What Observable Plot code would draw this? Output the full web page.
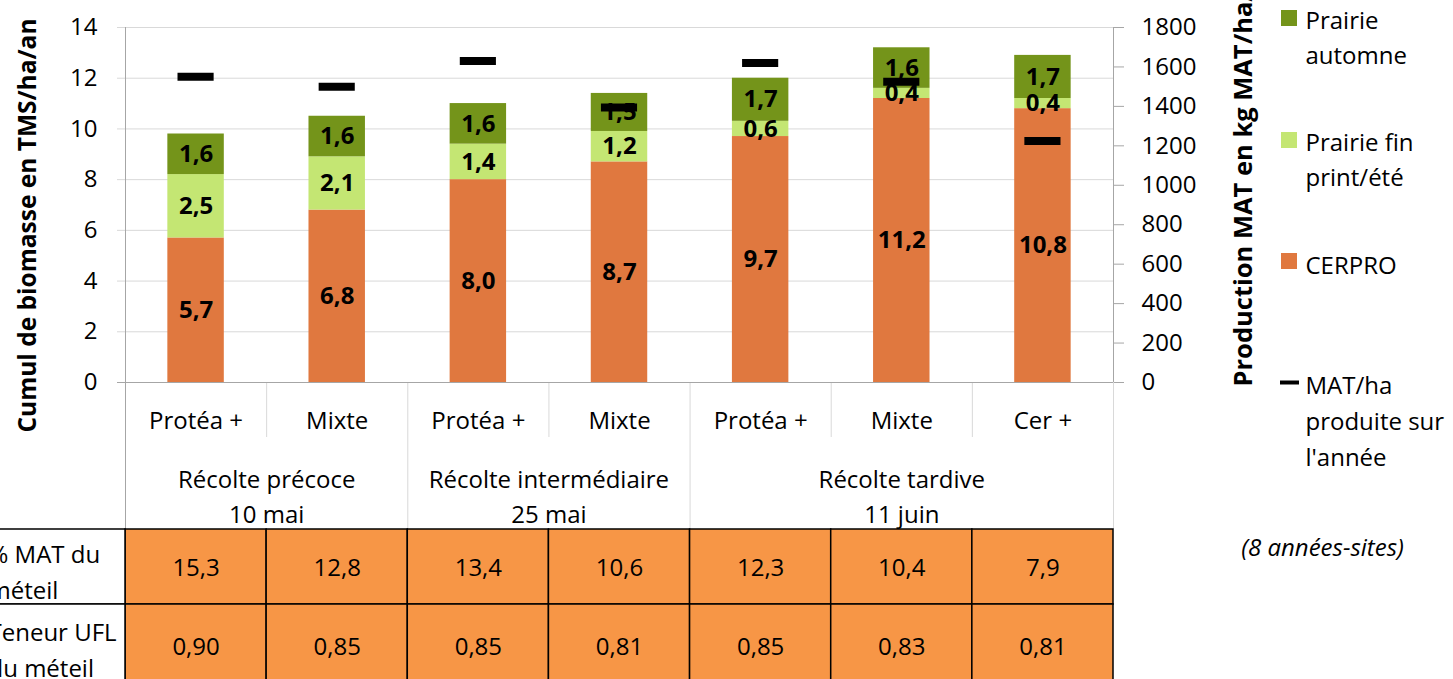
<!DOCTYPE html>
<html>
<head>
<meta charset="utf-8">
<script src="https://cdn.jsdelivr.net/npm/d3@7"></script>
<script src="https://cdn.jsdelivr.net/npm/@observablehq/plot@0.6"></script>
<style>
  html, body { margin: 0; padding: 0; background: white; }
  #chart { width: 1453px; height: 679px; overflow: hidden; }
</style>
</head>
<body>
<div id="chart"></div>
<script>
// ---- data ----
const categories = ["Protéa +", "Mixte", "Protéa +", "Mixte", "Protéa +", "Mixte", "Cer +"];
const groupNames = ["Récolte précoce\n10 mai", "Récolte intermédiaire\n25 mai", "Récolte tardive\n11 juin"];
const groupSizes = [2, 2, 3];
const seriesNames = ["CERPRO", "Prairie fin print/été", "Prairie automne"];
const cerpro = [5.7, 6.8, 8.0, 8.7, 9.7, 11.2, 10.8];
const prairieFin = [2.5, 2.1, 1.4, 1.2, 0.6, 0.4, 0.4];
const prairieAutomne = [1.6, 1.6, 1.6, 1.5, 1.7, 1.6, 1.7];
const matHa = [1550, 1500, 1630, 1395, 1620, 1525, 1225];
const matPct = [15.3, 12.8, 13.4, 10.6, 12.3, 10.4, 7.9];
const uflValues = [0.90, 0.85, 0.85, 0.81, 0.85, 0.83, 0.81];
const rowHeaders = ["% MAT du\nméteil", "Teneur UFL\ndu méteil"];
const leftTicks = [0, 2, 4, 6, 8, 10, 12, 14];
const rightTicks = [0, 200, 400, 600, 800, 1000, 1200, 1400, 1600, 1800];
const legendLabels = ["Prairie\nautomne", "Prairie fin\nprint/été", "CERPRO", "MAT/ha\nproduite sur\nl'année"];
const note = "(8 années-sites)";

// ---- styles ----
const colors = {"CERPRO": "#E0783F", "Prairie fin print/été": "#C4E673", "Prairie automne": "#74941A"};
const tableFill = "#F79646";
const FONT = "'Open Sans', Lato, sans-serif";
const FS = 24;

// ---- layout helpers (pixel -> scale units) ----
const W = 1453, H = 679;
const mL = 125, mR = 340, mT = 27, mB = 297;
const xMax = categories.length;
const yMax = 14, rightMax = 1800;
const ux = px => (px - mL) / ((W - mL - mR) / xMax);
const uy = px => (H - mB - px) / ((H - mB - mT) / yMax);
const toLeft = v => v * yMax / rightMax;
const fr = (v, d) => v.toFixed(d).replace(".", ",");

// stacked bar segments
const segs = [];
categories.forEach((c, i) => {
  let base = 0;
  [cerpro[i], prairieFin[i], prairieAutomne[i]].forEach((v, k) => {
    segs.push({i, series: seriesNames[k], value: v, y1: base, y2: base + v});
    base += v;
  });
});
const mats = matHa.map((v, i) => ({i, v}));

// group spans
const groups = [];
{
  let s = 0;
  groupNames.forEach((g, k) => { groups.push({name: g, start: s, end: s + groupSizes[k]}); s += groupSizes[k]; });
}
const groupBorders = [0, ...groups.map(g => g.end)];
const innerBorders = d3.range(1, xMax).filter(b => !groupBorders.includes(b));

const tableRows = [matPct.map(v => fr(v, 1)), uflValues.map(v => fr(v, 2))];
const cells = [];
tableRows.forEach((row, r) => row.forEach((t, i) => cells.push({i, r, t})));
const rowY = [[uy(529), uy(604)], [uy(604), uy(700)]];

const legendItems = [
  {label: legendLabels[0], color: colors["Prairie automne"], top: 10, mid: 35},
  {label: legendLabels[1], color: colors["Prairie fin print/été"], top: 132, mid: 157},
  {label: legendLabels[2], color: colors["CERPRO"], top: 253, mid: 262}
];

const chart = Plot.plot({
  width: W, height: H,
  marginLeft: mL, marginRight: mR, marginTop: mT, marginBottom: mB,
  style: {fontFamily: FONT, fontSize: FS + "px", color: "black", background: "white", overflow: "visible"},
  x: {domain: [0, xMax], axis: null},
  y: {domain: [0, yMax], axis: null},
  marks: [
    Plot.gridY(leftTicks.filter(t => t > 0), {stroke: "#d9d9d9", strokeOpacity: 1}),
    Plot.axisY(leftTicks, {anchor: "left", tickSize: 8, tickPadding: 20, stroke: "#d9d9d9", label: null, fontSize: FS}),
    Plot.axisY(rightTicks.map(toLeft), {anchor: "right", tickSize: 10, tickPadding: 18, stroke: "#a6a6a6", label: null,
      tickFormat: d => String(Math.round(d * rightMax / yMax)), fontSize: FS}),
    // category separators
    Plot.ruleX(innerBorders, {y1: 0, y2: uy(437), stroke: "#d9d9d9"}),
    Plot.ruleX(groupBorders.filter(b => b > 0), {y1: 0, y2: uy(529), stroke: "#d9d9d9"}),
    Plot.ruleX([0], {y1: uy(529), y2: yMax, stroke: "#a6a6a6"}),
    Plot.ruleX([xMax], {y1: 0, y2: yMax, stroke: "#a6a6a6"}),
    Plot.ruleY([0], {x1: ux(117), x2: xMax, stroke: "#a6a6a6"}),
    // bars
    Plot.rect(segs, {x1: d => d.i + 0.3, x2: d => d.i + 0.7, y1: "y1", y2: "y2", fill: d => colors[d.series]}),
    Plot.text(segs, {x: d => d.i + 0.5, y: d => (d.y1 + d.y2) / 2, text: d => fr(d.value, 1),
      fontWeight: "bold", fontSize: 24, fill: "black"}),
    // MAT markers (secondary axis)
    Plot.ruleY(mats, {y: d => toLeft(d.v), x1: d => d.i + 0.5 - 0.128, x2: d => d.i + 0.5 + 0.128, stroke: "black", strokeWidth: 8}),
    // category labels
    Plot.text(categories, {x: (d, i) => i + 0.5, y: uy(421), text: d => d}),
    Plot.text(groups, {x: d => (d.start + d.end) / 2, y: uy(494), text: "name", lineHeight: 1.45}),
    // table
    Plot.rect(cells, {x1: d => d.i, x2: d => d.i + 1, y1: d => rowY[d.r][0], y2: d => rowY[d.r][1], fill: tableFill, stroke: "black", strokeWidth: 1.5}),
    Plot.rect([0, 1], {x1: ux(-30), x2: 0, y1: r => rowY[r][0], y2: r => rowY[r][1], fill: "white", stroke: "black", strokeWidth: 1.5}),
    Plot.text(cells, {x: d => d.i + 0.5, y: d => d.r === 0 ? uy(568) : uy(647), text: "t"}),
    Plot.text(rowHeaders, {x: ux(-12), y: (d, r) => r === 0 ? uy(569) : uy(647), text: d => d, textAnchor: "start", lineHeight: 1.5}),
    // axis titles
    Plot.text(["Cumul de biomasse en TMS/ha/an"], {x: ux(28), y: uy(432), text: d => d, rotate: -90, textAnchor: "start", fontWeight: "bold", fontSize: 24.5}),
    Plot.text(["Production MAT en kg MAT/ha/an"], {x: ux(1243), y: uy(386), text: d => d, rotate: -90, textAnchor: "start", fontWeight: "bold", fontSize: 25.5}),
    // legend
    Plot.rect(legendItems, {x1: ux(1281), x2: ux(1297), y1: d => uy(d.top), y2: d => uy(d.top + 16), fill: "color"}),
    Plot.text(legendItems, {x: ux(1305), y: d => uy(d.mid), text: "label", textAnchor: "start", lineHeight: 1.45}),
    Plot.ruleY([uy(382)], {x1: ux(1280), x2: ux(1299), stroke: "black", strokeWidth: 4}),
    Plot.text([legendLabels[3]], {x: ux(1305), y: uy(418), text: d => d, textAnchor: "start", lineHeight: 1.5}),
    Plot.text([note], {x: ux(1322), y: uy(548), text: d => d, fontStyle: "italic"})
  ]
});
document.getElementById("chart").appendChild(chart);
</script>
</body>
</html>
